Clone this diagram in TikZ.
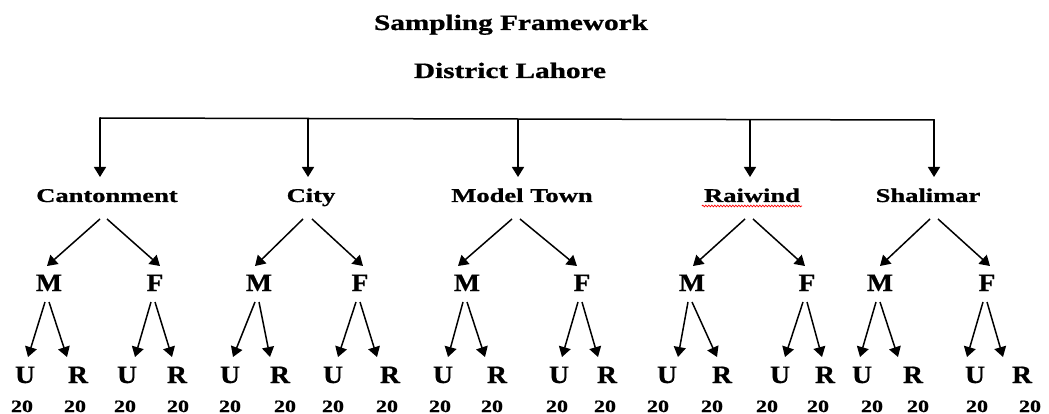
\documentclass[tikz,border=0pt]{standalone}
\usepackage{fontspec}
\setmainfont[BoldFeatures={FakeBold=0.8}]{Liberation Serif}
\usetikzlibrary{arrows.meta,calc,decorations.pathmorphing}

% horizontally widened text for the different label levels
\newcommand\wT[1]{\scalebox{1.33}[1]{#1}}
\newcommand\wD[1]{\scalebox{1.36}[1]{#1}}
\newcommand\wL[1]{\scalebox{1.1}[1]{#1}}
\newcommand\wN[1]{\scalebox{1.27}[1]{#1}}

\begin{document}
\begin{tikzpicture}[x=1pt, y=-1pt,
  txt/.style={inner sep=0pt, anchor=base, text=black},
  ttl/.style={txt, font=\fontsize{22}{26}\selectfont\bfseries},
  dist/.style={txt, font=\fontsize{19.5}{23}\selectfont\bfseries},
  sx/.style={txt, font=\fontsize{25}{29}\selectfont\bfseries},
  num/.style={txt, font=\fontsize{17.3}{20}\selectfont\bfseries},
  link/.style={line width=1.5pt, draw=black},
  arr/.style={link, -{Triangle[width=12pt,length=10pt]}},
]
\useasboundingbox[fill=white] (0,0) rectangle (1049,414);

% headings
\node[ttl] (title)  at (511,30) {\wT{Sampling Framework}};
\node[ttl] (lahore) at (510,78) {\wT{District Lahore}};

% towns
\foreach \n/\t/\x in {c/Cantonment/107, y/City/311, m/Model Town/522, r/Raiwind/752, s/Shalimar/928}
  \node[dist] (\n) at (\x,202) {\wD{\t}};

% bus line and drops to the towns
\foreach \n/\d/\h in {c/-7/-84, y/-3/-83.5, m/-4/-83, r/-2/-82.5, s/6/-82} {
  \coordinate (\n-top) at ([shift={(\d,\h)}]\n.base);
  \draw[arr] (\n-top) -- ([shift={(\d,-25)}]\n.base);
}
\draw[link, line cap=rect] (c-top) -- (s-top);

% spell-check mark under Raiwind
\draw[red, line width=0.8pt, decorate, decoration={snake, amplitude=0.8pt, segment length=3pt}]
  ([shift={(-2,4)}]r.base west) -- ([shift={(2,4)}]r.base east);

% gender level
\foreach \n/\t/\x in {cM/M/49, cF/F/155, yM/M/259, yF/F/360, mM/M/467, mF/F/582,
                      rM/M/692, rF/F/807, sM/M/880, sF/F/987}
  \node[sx] (\n) at (\x,291) {\wL{\t}};

\foreach \p/\c/\s/\t in {c/cM/-7/-2, c/cF/0/5, y/yM/-8/-4, y/yF/1/3, m/mM/-10/-9, m/mF/-2/-5,
                         r/rM/-7/1, r/rF/1/-2, s/sM/2/0, s/sF/10/3}
  \draw[arr] ([shift={(\s,17)}]\p.base) -- ([shift={(\t,-25)}]\c.base);

% urban / rural level with sample sizes
\foreach \n/\t/\x/\nx in {cMU/U/25/22, cMR/R/78/75, cFU/U/127/125, cFR/R/177/178,
                          yMU/U/230/230, yMR/R/280/285, yFU/U/333/333, yFR/R/390/387,
                          mMU/U/443/440, mMR/R/497/492, mFU/U/559/557, mFR/R/607/605,
                          rMU/U/667/658, rMR/R/722/712, rFU/U/780/767, rFR/R/825/818,
                          sMU/U/862/872, sMR/R/913/918, sFU/U/975/977, sFR/R/1022/1030} {
  \node[sx] (\n) at (\x,383) {\wL{\t}};
  \node[num] (\n-n) at (\nx,412) {\wN{20}};
}

\foreach \p/\c/\s/\t in {cM/cMU/-4/3, cM/cMR/0/-11, cF/cFU/-4/8, cF/cFR/0/-5,
                         yM/yMU/-4/3, yM/yMR/0/-10, yF/yFU/-4/5, yF/yFR/0/-13,
                         mM/mMU/-4/5, mM/mMR/0/-12, mF/mFU/-4/3, mF/mFR/0/-9,
                         rM/rMU/-4/11, rM/rMR/0/-5, rF/rFU/-4/5, rF/rFR/0/-3,
                         sM/sMU/-4/-2, sM/sMR/0/-15, sF/sFU/-4/-8, sF/sFR/0/-19}
  \draw[arr] ([shift={(\s,11)}]\p.base) -- ([shift={(\t,-26)}]\c.base);
\end{tikzpicture}
\end{document}
